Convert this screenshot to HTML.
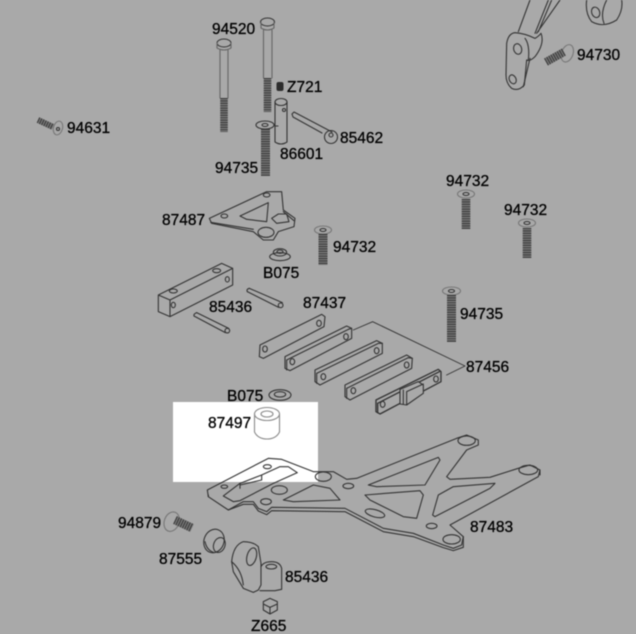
<!DOCTYPE html>
<html><head><meta charset="utf-8"><style>
html,body{margin:0;padding:0;background:#a9a9a9;width:636px;height:634px;overflow:hidden}
svg{display:block;filter:blur(.5px)}
text{font-family:"Liberation Sans",sans-serif;font-size:15.5px;fill:#000;stroke:#000;stroke-width:.3px}
.l{fill:none;stroke:#333;stroke-width:1.1;stroke-linejoin:round;stroke-linecap:round}
.z{fill:none;stroke:#333;stroke-width:3.3;stroke-linejoin:round;stroke-linecap:round}
.b{fill:none;stroke:#7a7a7a}
.t{fill:none;stroke:#3a3a3a;stroke-dasharray:1.1 1.3}
</style></head><body>
<svg width="636" height="634" viewBox="0 0 636 634" xmlns="http://www.w3.org/2000/svg">
<rect width="636" height="634" fill="#a9a9a9"/>
<rect x="173" y="402" width="145" height="80" fill="#fff"/>

<!-- top bolts -->
<g class="l">
<ellipse cx="224" cy="43" rx="7" ry="4"/><path d="M217 43v5q7 4 14 0v-5M220 50V98M228 50V98" stroke="#666"/>
<ellipse cx="267.500" cy="22" rx="7" ry="4"/><path d="M261 22v6q6.500 4 13 0v-6M263.500 30V78M272 30V78" stroke="#666"/>
<path d="M275 102v40q6 4 12 0V102"/><ellipse cx="281" cy="102" rx="6" ry="3.500"/><circle cx="284" cy="110" r="1.500"/><path d="M278 126h-3"/>
<path d="M292 114l2-2 38 20 M292 114l1 3 29 16"/><circle cx="331" cy="137" r="6.500"/><circle cx="331" cy="135" r="2"/>
<ellipse cx="265" cy="125" rx="9" ry="4"/><ellipse cx="265" cy="125" rx="3" ry="1.500"/>
</g>
<path class="b" d="M224 98V132" stroke-width="7.500"/><path class="t" d="M224 98V132" stroke-width="7.500"/>
<path class="b" d="M267.500 78V112" stroke-width="7.500"/><path class="t" d="M267.500 78V112" stroke-width="7.500"/>
<path class="b" d="M265.500 129V176" stroke-width="9"/><path class="t" d="M265.500 129V176" stroke-width="9"/>
<rect x="276.500" y="82" width="7" height="9" rx="2" fill="#2c2c2c"/>

<!-- 94631 -->
<path class="b" d="M38 120L53 127" stroke-width="6"/><path class="t" d="M38 120L53 127" stroke-width="6"/>
<g class="l"><ellipse cx="58" cy="128" rx="4.500" ry="7" transform="rotate(15 58 128)" stroke="#777"/><circle cx="58" cy="129" r="1.500"/></g>

<!-- top right part -->
<g transform="translate(480 0) scale(.3333)" class="z">
<path d="M80 130Q85 100 105 98Q135 100 165 115Q175 110 183 100Q195 130 165 170Q150 185 140 180L133 255Q115 275 95 265Q78 250 78 225Z"/>
<path d="M135 115Q150 135 145 180M150 175L130 260"/>
<ellipse cx="113" cy="147" rx="12" ry="16" transform="rotate(-15 113 147)"/>
<ellipse cx="98" cy="238" rx="10" ry="14" transform="rotate(-25 98 238)"/>
<path d="M115 95L150 0M165 100L205 0M170 100L240 0M175 95L215 0"/>
<path d="M320 0Q315 40 335 65Q370 85 410 60Q430 30 425 0M372 70Q360 40 380 0"/>
<ellipse cx="347" cy="37" rx="12" ry="16" transform="rotate(-20 347 37)"/>
<ellipse cx="262" cy="160" rx="17" ry="27" transform="rotate(20 262 160)" stroke="#777"/>
</g>
<path class="b" d="M546 62L564 52" stroke-width="8"/><path class="t" d="M546 62L564 52" stroke-width="8"/>

<!-- 94732 / 94735 -->
<g class="l"><ellipse cx="466" cy="194" rx="8.500" ry="4" stroke="#777"/><ellipse cx="466" cy="194" rx="3" ry="1.500"/>
<ellipse cx="527" cy="223" rx="8.500" ry="4" stroke="#777"/><ellipse cx="527" cy="223" rx="3" ry="1.500"/>
<ellipse cx="323" cy="230" rx="8.500" ry="4" stroke="#777"/><ellipse cx="323" cy="230" rx="3" ry="1.500"/>
<ellipse cx="451.500" cy="291" rx="9" ry="4" stroke="#777"/><ellipse cx="451.500" cy="291" rx="3" ry="1.500"/></g>
<path class="b" d="M466 199V229" stroke-width="8.500"/><path class="t" d="M466 199V229" stroke-width="8.500"/>
<path class="b" d="M527 228V258" stroke-width="8.500"/><path class="t" d="M527 228V258" stroke-width="8.500"/>
<path class="b" d="M323 234V265" stroke-width="9"/><path class="t" d="M323 234V265" stroke-width="9"/>
<path class="b" d="M451.500 295V342" stroke-width="9"/><path class="t" d="M451.500 295V342" stroke-width="9"/>

<!-- 87487 etc -->
<g transform="translate(140 190) scale(.3333)" class="z">
<path d="M208 85L380 5L425 5L430 60L465 85L462 110L415 125L400 150L370 150L340 125L215 100Z"/>
<path d="M212 97L340 118M430 65L462 92"/>
<path d="M300 78L385 38L380 95L320 88Z"/>
<path d="M395 85L415 72L440 72L447 95L410 100Z"/>
<ellipse cx="378" cy="127" rx="24" ry="15"/>
<ellipse cx="253" cy="78" rx="10" ry="6"/><ellipse cx="380" cy="15" rx="10" ry="6"/>
<ellipse cx="420" cy="187" rx="20" ry="11"/><ellipse cx="420" cy="185" rx="9" ry="5"/>
<ellipse cx="420" cy="200" rx="31" ry="12"/>
<path d="M55 315L245 220L278 235L90 330ZM55 315V365L90 380V330M278 235V285L90 380"/>
<ellipse cx="100" cy="303" rx="12" ry="6"/><ellipse cx="230" cy="242" rx="12" ry="6"/>
<ellipse cx="100" cy="345" rx="6" ry="8"/><ellipse cx="262" cy="268" rx="6" ry="8"/>
<path d="M328 295L427 338M322 305L416 352"/><circle cx="422" cy="346" r="7"/><path d="M328 295Q318 298 322 305"/>
<path d="M170 368L266 415M162 378L256 428"/><circle cx="262" cy="422" r="7"/><path d="M170 368Q160 372 162 378"/>
</g>

<!-- plates -->
<g transform="translate(250 280) scale(.3333)" class="z">
<path d="M30 195L215 103L225 110L222 140L40 235L28 230Z"/><ellipse cx="45" cy="207" rx="7" ry="9"/><ellipse cx="207" cy="130" rx="7" ry="9"/>
<path d="M105 230L290 138L305 145L305 175L120 272L105 265Z"/><path d="M110 240L295 148L305 145M110 240V270"/><ellipse cx="127" cy="245" rx="7" ry="9"/><ellipse cx="288" cy="170" rx="7" ry="9"/>
<path d="M195 270L380 182L397 190L397 220L210 315L195 305Z"/><path d="M200 280L385 190L397 190M200 280V310"/><ellipse cx="220" cy="290" rx="7" ry="9"/><ellipse cx="380" cy="212" rx="7" ry="9"/>
<path d="M285 315L470 225L487 235L485 265L300 360L285 350Z"/><path d="M290 325L475 233L487 235M290 325V355"/><ellipse cx="310" cy="332" rx="7" ry="9"/><ellipse cx="470" cy="255" rx="7" ry="9"/>
<path d="M378 360L565 268L573 275L573 305L390 402L378 395Z" stroke-width="4"/><path d="M383 370L568 275M383 370V398" stroke-width="4"/><ellipse cx="398" cy="373" rx="7" ry="9"/><ellipse cx="558" cy="297" rx="7" ry="9"/>
<path d="M450 328L505 305L520 315L520 340L470 375L450 372ZM460 330V372M470 335V375M470 335L520 312" fill="#a9a9a9"/>
<path d="M310 150L368 125L645 258L590 285" stroke-width="2.800"/>
<ellipse cx="90" cy="345" rx="33" ry="16"/><ellipse cx="90" cy="343" rx="17" ry="8"/>
</g>

<!-- 87497 spacer -->
<g class="l" style="stroke:#8a8a8a"><ellipse cx="267" cy="414" rx="12.500" ry="6.500"/><ellipse cx="267" cy="414" rx="6" ry="3"/>
<path d="M254.500 414V432Q258 439 267 439Q276 439 279.500 432V414"/></g>

<!-- main plate -->
<g transform="translate(190 420) scale(.3333)" class="z">
<path d="M52 210L235 115L275 118L370 155L430 155L470 178L500 175L800 55L830 45L865 60L865 75L830 90L770 170L780 178L900 172L985 145L1020 135L1050 150L1045 170L780 315L820 350L815 375L790 385L760 375L670 340L580 325L465 265L245 262L230 275L205 265L190 245L160 245L115 270L55 230Z"/>
<path d="M55 230V225M115 270L160 253L190 253L205 273L230 284L245 272L465 275L580 335L670 350L760 383L790 392L820 382L820 350M1050 150V165"/>
<path d="M100 228L150 190L215 165L270 140L295 140L322 158L250 190L150 242L130 245Z"/>
<path d="M150 195L215 180V165M150 190V205"/>
<ellipse cx="232" cy="140" rx="12" ry="6"/><ellipse cx="103" cy="200" rx="10" ry="5"/>
<ellipse cx="400" cy="170" rx="24" ry="14"/><ellipse cx="268" cy="210" rx="24" ry="13"/>
<ellipse cx="228" cy="245" rx="16" ry="9"/><ellipse cx="475" cy="198" rx="16" ry="8"/>
<path d="M280 240L370 195L420 205L450 240L310 245Z"/>
<path d="M535 195L745 112L750 120L705 195L560 200Z"/>
<path d="M525 225L690 212L700 225L680 295L640 290L540 240Z"/>
<path d="M745 225L790 200L915 190L900 205L735 290L728 285Z"/>
<ellipse cx="555" cy="280" rx="30" ry="11" transform="rotate(15 555 280)"/>
<ellipse cx="725" cy="318" rx="16" ry="8"/>
<ellipse cx="785" cy="358" rx="26" ry="14"/><ellipse cx="830" cy="62" rx="26" ry="14"/><ellipse cx="1015" cy="150" rx="28" ry="14"/>
</g>

<!-- bottom parts -->
<g transform="translate(110 500) scale(.3333)" class="z">
<ellipse cx="185" cy="65" rx="22" ry="30" transform="rotate(20 185 65)" stroke="#777"/>
<ellipse cx="312" cy="123" rx="30" ry="36" transform="rotate(20 312 123)"/>
<ellipse cx="328" cy="135" rx="17" ry="23" transform="rotate(20 328 135)"/>
<path d="M285 125Q290 150 310 157"/>
<path d="M365 185Q370 135 400 125Q430 125 445 140L453 190V255L445 270L430 277L400 265L370 215Z"/>
<path d="M365 185Q395 210 400 255"/>
<ellipse cx="425" cy="170" rx="14" ry="27" transform="rotate(15 425 170)"/>
<path d="M453 200Q460 185 485 185Q510 185 515 205V268L495 272H450"/>
<ellipse cx="484" cy="200" rx="16" ry="7"/>
<path d="M460 305L480 295L502 305V330L480 342L460 330ZM460 312L480 322L502 312M480 322V342"/>
</g>
<path class="b" d="M175 520L192 528" stroke-width="8.500"/><path class="t" d="M175 520L192 528" stroke-width="8.500"/>

<!-- labels -->
<text x="212" y="34">94520</text>
<text x="287" y="92">Z721</text>
<text x="67" y="133">94631</text>
<text x="340" y="143">85462</text>
<text x="280" y="159">86601</text>
<text x="215" y="173">94735</text>
<text x="577" y="60">94730</text>
<text x="446" y="186">94732</text>
<text x="504" y="215">94732</text>
<text x="162" y="225">87487</text>
<text x="333" y="252">94732</text>
<text x="263" y="278">B075</text>
<text x="209" y="312">85436</text>
<text x="303" y="308">87437</text>
<text x="460" y="319">94735</text>
<text x="466" y="372">87456</text>
<text x="227" y="401">B075</text>
<text x="208" y="428">87497</text>
<text x="118" y="528">94879</text>
<text x="470" y="532">87483</text>
<text x="159" y="564">87555</text>
<text x="285" y="582">85436</text>
<text x="251" y="631">Z665</text>
</svg>
</body></html>
